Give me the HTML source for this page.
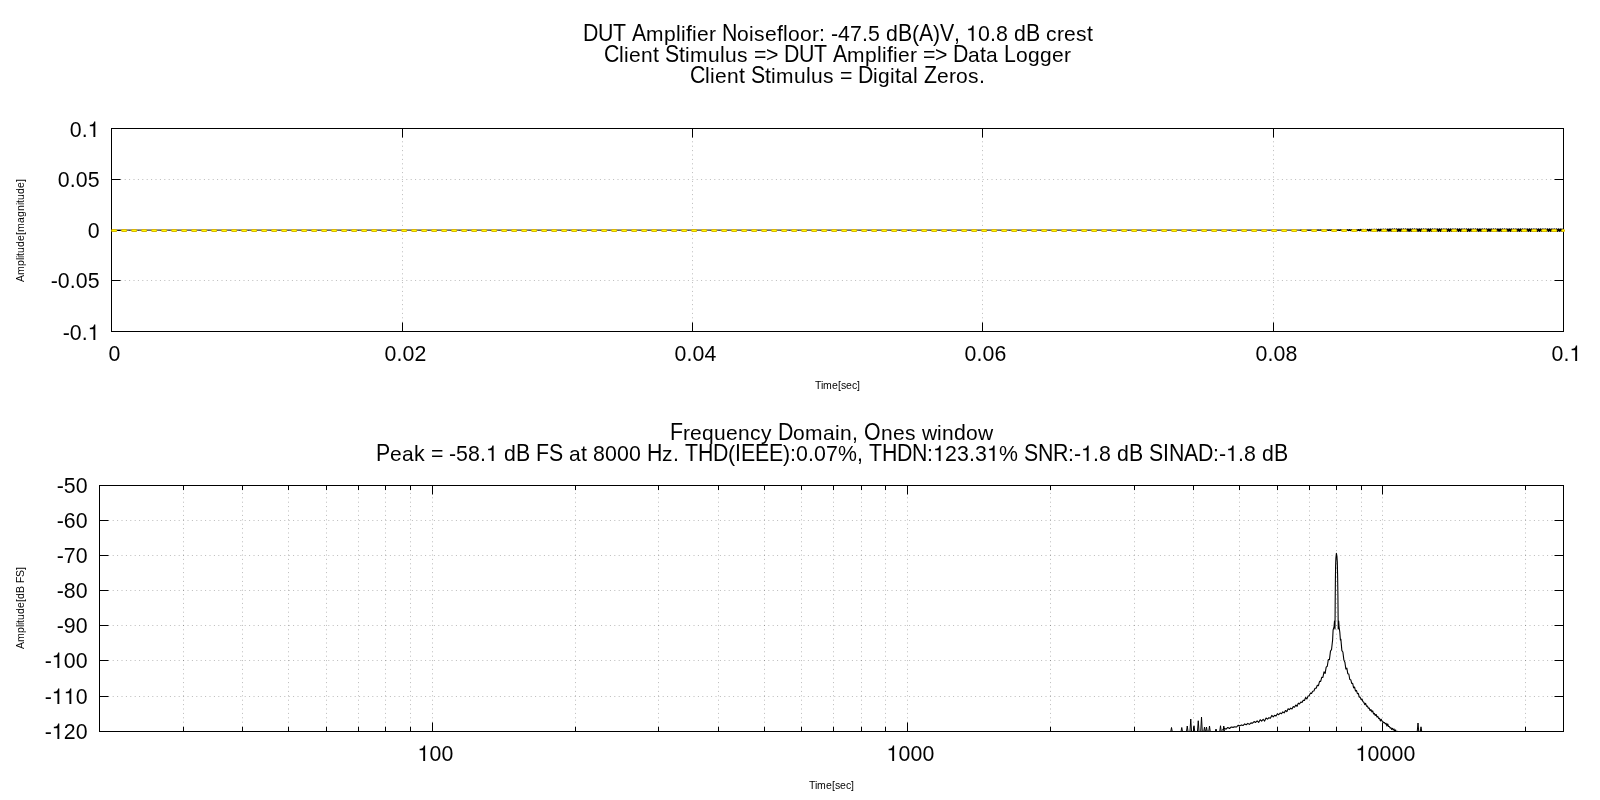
<!DOCTYPE html><html><head><meta charset="utf-8"><style>html,body{margin:0;padding:0;background:#fff;}svg{display:block;}text{font-family:"Liberation Sans",sans-serif;fill:#000;}</style></head><body>
<svg width="1600" height="800" viewBox="0 0 1600 800">
<defs><path id="one" d="M358 0L268 0L268 510L100 510L100 574C176 579 214 586 244 610C274 636 290 672 300 728L358 728Z"/><clipPath id="cb"><rect x="99.5" y="485.5" width="1464" height="246"/></clipPath></defs>
<rect x="0" y="0" width="1600" height="800" fill="#fff"/>
<path d="M402.5 331.5V128.5M692.5 331.5V128.5M982.5 331.5V128.5M1273.5 331.5V128.5M111.5 179.5H1563.5M111.5 230.5H1563.5M111.5 280.5H1563.5" fill="none" stroke="#000" stroke-width="1" stroke-opacity="0.27" stroke-dasharray="1 3.4"/>
<path d="M111.5 331.5v-9M111.5 128.5v9M402.5 331.5v-9M402.5 128.5v9M692.5 331.5v-9M692.5 128.5v9M982.5 331.5v-9M982.5 128.5v9M1273.5 331.5v-9M1273.5 128.5v9M1563.5 331.5v-9M1563.5 128.5v9M111.5 128.5h9M1563.5 128.5h-9M111.5 179.5h9M1563.5 179.5h-9M111.5 230.5h9M1563.5 230.5h-9M111.5 280.5h9M1563.5 280.5h-9M111.5 331.5h9M1563.5 331.5h-9" fill="none" stroke="#000" stroke-width="1"/>
<rect x="111.5" y="128.5" width="1452" height="203" fill="none" stroke="#000" stroke-width="1"/>
<polyline points="111.50,230.10 1300.00,230.10" fill="none" stroke="#000" stroke-width="0.95"/>
<polyline points="1300.00,230.10 1300.30,230.10 1300.60,230.10 1300.90,230.10 1301.20,230.10 1301.50,230.10 1301.80,230.10 1302.10,230.10 1302.40,230.10 1302.70,230.10 1303.00,230.10 1303.30,230.10 1303.60,230.11 1303.90,230.10 1304.20,230.10 1304.50,230.09 1304.80,230.09 1305.10,230.10 1305.40,230.11 1305.70,230.11 1306.00,230.10 1306.30,230.08 1306.60,230.09 1306.90,230.11 1307.20,230.12 1307.50,230.11 1307.80,230.09 1308.10,230.08 1308.40,230.08 1308.70,230.11 1309.00,230.13 1309.30,230.12 1309.60,230.09 1309.90,230.07 1310.20,230.08 1310.50,230.11 1310.80,230.14 1311.10,230.12 1311.40,230.09 1311.70,230.06 1312.00,230.07 1312.30,230.12 1312.60,230.15 1312.90,230.13 1313.20,230.08 1313.50,230.05 1313.80,230.06 1314.10,230.12 1314.40,230.16 1314.70,230.14 1315.00,230.08 1315.30,230.04 1315.60,230.06 1315.90,230.12 1316.20,230.17 1316.50,230.15 1316.80,230.07 1317.10,230.02 1317.40,230.05 1317.70,230.13 1318.00,230.18 1318.30,230.16 1318.60,230.07 1318.90,230.01 1319.20,230.04 1319.50,230.13 1319.80,230.20 1320.10,230.16 1320.40,230.06 1320.70,230.00 1321.00,230.03 1321.30,230.14 1321.60,230.21 1321.90,230.17 1322.20,230.06 1322.50,229.98 1322.80,230.02 1323.10,230.14 1323.40,230.23 1323.70,230.18 1324.00,230.05 1324.30,229.97 1324.60,230.01 1324.90,230.15 1325.20,230.24 1325.50,230.19 1325.80,230.05 1326.10,229.95 1326.40,230.00 1326.70,230.15 1327.00,230.26 1327.30,230.20 1327.60,230.04 1327.90,229.93 1328.20,229.99 1328.50,230.16 1328.80,230.28 1329.10,230.22 1329.40,230.04 1329.70,229.92 1330.00,229.98 1330.30,230.17 1330.60,230.29 1330.90,230.23 1331.20,230.03 1331.50,229.90 1331.80,229.97 1332.10,230.17 1332.40,230.31 1332.70,230.24 1333.00,230.02 1333.30,229.88 1333.60,229.95 1333.90,230.18 1334.20,230.33 1334.50,230.25 1334.80,230.02 1335.10,229.86 1335.40,229.94 1335.70,230.19 1336.00,230.35 1336.30,230.27 1336.60,230.01 1336.90,229.84 1337.20,229.93 1337.50,230.19 1337.80,230.37 1338.10,230.28 1338.40,230.00 1338.70,229.82 1339.00,229.91 1339.30,230.20 1339.60,230.39 1339.90,230.29 1340.20,230.00 1340.50,229.80 1340.80,229.90 1341.10,230.21 1341.40,230.41 1341.70,230.31 1342.00,229.99 1342.30,229.78 1342.60,229.89 1342.90,230.22 1343.20,230.43 1343.50,230.32 1343.80,229.98 1344.10,229.75 1344.40,229.87 1344.70,230.22 1345.00,230.46 1345.30,230.34 1345.60,229.97 1345.90,229.73 1346.20,229.86 1346.50,230.23 1346.80,230.48 1347.10,230.35 1347.40,229.97 1347.70,229.71 1348.00,229.84 1348.30,230.24 1348.60,230.50 1348.90,230.37 1349.20,229.96 1349.50,229.68 1349.80,229.83 1350.10,230.25 1350.40,230.53 1350.70,230.38 1351.00,229.95 1351.30,229.66 1351.60,229.81 1351.90,230.26 1352.20,230.55 1352.50,230.40 1352.80,229.94 1353.10,229.63 1353.40,229.79 1353.70,230.26 1354.00,230.58 1354.30,230.42 1354.60,229.93 1354.90,229.61 1355.20,229.78 1355.50,230.27 1355.80,230.60 1356.10,230.43 1356.40,229.92 1356.70,229.58 1357.00,229.76 1357.30,230.28 1357.60,230.63 1357.90,230.45 1358.20,229.91 1358.50,229.56 1358.80,229.74 1359.10,230.29 1359.40,230.66 1359.70,230.47 1360.00,229.90 1360.30,229.53 1360.60,229.72 1360.90,230.30 1361.20,230.68 1361.50,230.48 1361.80,229.89 1362.10,229.50 1362.40,229.71 1362.70,230.31 1363.00,230.71 1363.30,230.50 1363.60,229.88 1363.90,229.47 1364.20,229.69 1364.50,230.32 1364.80,230.74 1365.10,230.52 1365.40,229.87 1365.70,229.44 1366.00,229.67 1366.30,230.33 1366.60,230.77 1366.90,230.54 1367.20,229.86 1367.50,229.42 1367.80,229.65 1368.10,230.34 1368.40,230.80 1368.70,230.56 1369.00,229.85 1369.30,229.39 1369.60,229.63 1369.90,230.35 1370.20,230.83 1370.50,230.58 1370.80,229.84 1371.10,229.36 1371.40,229.61 1371.70,230.36 1372.00,230.86 1372.30,230.60 1372.60,229.83 1372.90,229.33 1373.20,229.59 1373.50,230.37 1373.80,230.89 1374.10,230.62 1374.40,229.82 1374.70,229.30 1375.00,229.57 1375.30,230.38 1375.60,230.92 1375.90,230.64 1376.20,229.81 1376.50,229.26 1376.80,229.55 1377.10,230.39 1377.40,230.95 1377.70,230.66 1378.00,229.80 1378.30,229.23 1378.60,229.53 1378.90,230.40 1379.20,230.98 1379.50,230.68 1379.80,229.79 1380.10,229.20 1380.40,229.51 1380.70,230.42 1381.00,231.02 1381.30,230.70 1381.60,229.78 1381.90,229.17 1382.20,229.49 1382.50,230.43 1382.80,231.05 1383.10,230.72 1383.40,229.77 1383.70,229.13 1384.00,229.47 1384.30,230.44 1384.60,231.08 1384.90,230.74 1385.20,229.76 1385.50,229.10 1385.80,229.44 1386.10,230.45 1386.40,231.12 1386.70,230.77 1387.00,229.74 1387.30,229.07 1387.60,229.42 1387.90,230.46 1388.20,231.15 1388.50,230.79 1388.80,229.73 1389.10,229.03 1389.40,229.40 1389.70,230.47 1390.00,231.18 1390.30,230.81 1390.60,229.72 1390.90,229.00 1391.20,229.38 1391.50,230.49 1391.80,231.22 1392.10,230.83 1392.40,229.71 1392.70,228.96 1393.00,229.35 1393.30,230.50 1393.60,231.25 1393.90,230.86 1394.20,229.70 1394.50,228.93 1394.80,229.33 1395.10,230.51 1395.40,231.28 1395.70,230.87 1396.00,229.69 1396.30,228.92 1396.60,229.33 1396.90,230.51 1397.20,231.28 1397.50,230.87 1397.80,229.69 1398.10,228.92 1398.40,229.33 1398.70,230.51 1399.00,231.28 1399.30,230.87 1399.60,229.69 1399.90,228.92 1400.20,229.33 1400.50,230.51 1400.80,231.28 1401.10,230.87 1401.40,229.69 1401.70,228.92 1402.00,229.33 1402.30,230.51 1402.60,231.28 1402.90,230.87 1403.20,229.69 1403.50,228.92 1403.80,229.33 1404.10,230.51 1404.40,231.28 1404.70,230.87 1405.00,229.69 1405.30,228.92 1405.60,229.33 1405.90,230.51 1406.20,231.28 1406.50,230.87 1406.80,229.69 1407.10,228.92 1407.40,229.33 1407.70,230.51 1408.00,231.28 1408.30,230.87 1408.60,229.69 1408.90,228.92 1409.20,229.33 1409.50,230.51 1409.80,231.28 1410.10,230.87 1410.40,229.69 1410.70,228.92 1411.00,229.33 1411.30,230.51 1411.60,231.28 1411.90,230.87 1412.20,229.69 1412.50,228.92 1412.80,229.33 1413.10,230.51 1413.40,231.28 1413.70,230.87 1414.00,229.69 1414.30,228.92 1414.60,229.33 1414.90,230.51 1415.20,231.28 1415.50,230.87 1415.80,229.69 1416.10,228.92 1416.40,229.33 1416.70,230.51 1417.00,231.28 1417.30,230.87 1417.60,229.69 1417.90,228.92 1418.20,229.33 1418.50,230.51 1418.80,231.28 1419.10,230.87 1419.40,229.69 1419.70,228.92 1420.00,229.33 1420.30,230.51 1420.60,231.28 1420.90,230.87 1421.20,229.69 1421.50,228.92 1421.80,229.33 1422.10,230.51 1422.40,231.28 1422.70,230.87 1423.00,229.69 1423.30,228.92 1423.60,229.33 1423.90,230.51 1424.20,231.28 1424.50,230.87 1424.80,229.69 1425.10,228.92 1425.40,229.33 1425.70,230.51 1426.00,231.28 1426.30,230.87 1426.60,229.69 1426.90,228.92 1427.20,229.33 1427.50,230.51 1427.80,231.28 1428.10,230.87 1428.40,229.69 1428.70,228.92 1429.00,229.33 1429.30,230.51 1429.60,231.28 1429.90,230.87 1430.20,229.69 1430.50,228.92 1430.80,229.33 1431.10,230.51 1431.40,231.28 1431.70,230.87 1432.00,229.69 1432.30,228.92 1432.60,229.33 1432.90,230.51 1433.20,231.28 1433.50,230.87 1433.80,229.69 1434.10,228.92 1434.40,229.33 1434.70,230.51 1435.00,231.28 1435.30,230.87 1435.60,229.69 1435.90,228.92 1436.20,229.33 1436.50,230.51 1436.80,231.28 1437.10,230.87 1437.40,229.69 1437.70,228.92 1438.00,229.33 1438.30,230.51 1438.60,231.28 1438.90,230.87 1439.20,229.69 1439.50,228.92 1439.80,229.33 1440.10,230.51 1440.40,231.28 1440.70,230.87 1441.00,229.69 1441.30,228.92 1441.60,229.33 1441.90,230.51 1442.20,231.28 1442.50,230.87 1442.80,229.69 1443.10,228.92 1443.40,229.33 1443.70,230.51 1444.00,231.28 1444.30,230.87 1444.60,229.69 1444.90,228.92 1445.20,229.33 1445.50,230.51 1445.80,231.28 1446.10,230.87 1446.40,229.69 1446.70,228.92 1447.00,229.33 1447.30,230.51 1447.60,231.28 1447.90,230.87 1448.20,229.69 1448.50,228.92 1448.80,229.33 1449.10,230.51 1449.40,231.28 1449.70,230.87 1450.00,229.69 1450.30,228.92 1450.60,229.33 1450.90,230.51 1451.20,231.28 1451.50,230.87 1451.80,229.69 1452.10,228.92 1452.40,229.33 1452.70,230.51 1453.00,231.28 1453.30,230.87 1453.60,229.69 1453.90,228.92 1454.20,229.33 1454.50,230.51 1454.80,231.28 1455.10,230.87 1455.40,229.69 1455.70,228.92 1456.00,229.33 1456.30,230.51 1456.60,231.28 1456.90,230.87 1457.20,229.69 1457.50,228.92 1457.80,229.33 1458.10,230.51 1458.40,231.28 1458.70,230.87 1459.00,229.69 1459.30,228.92 1459.60,229.33 1459.90,230.51 1460.20,231.28 1460.50,230.87 1460.80,229.69 1461.10,228.92 1461.40,229.33 1461.70,230.51 1462.00,231.28 1462.30,230.87 1462.60,229.69 1462.90,228.92 1463.20,229.33 1463.50,230.51 1463.80,231.28 1464.10,230.87 1464.40,229.69 1464.70,228.92 1465.00,229.33 1465.30,230.51 1465.60,231.28 1465.90,230.87 1466.20,229.69 1466.50,228.92 1466.80,229.33 1467.10,230.51 1467.40,231.28 1467.70,230.87 1468.00,229.69 1468.30,228.92 1468.60,229.33 1468.90,230.51 1469.20,231.28 1469.50,230.87 1469.80,229.69 1470.10,228.92 1470.40,229.33 1470.70,230.51 1471.00,231.28 1471.30,230.87 1471.60,229.69 1471.90,228.92 1472.20,229.33 1472.50,230.51 1472.80,231.28 1473.10,230.87 1473.40,229.69 1473.70,228.92 1474.00,229.33 1474.30,230.51 1474.60,231.28 1474.90,230.87 1475.20,229.69 1475.50,228.92 1475.80,229.33 1476.10,230.51 1476.40,231.28 1476.70,230.87 1477.00,229.69 1477.30,228.92 1477.60,229.33 1477.90,230.51 1478.20,231.28 1478.50,230.87 1478.80,229.69 1479.10,228.92 1479.40,229.33 1479.70,230.51 1480.00,231.28 1480.30,230.87 1480.60,229.69 1480.90,228.92 1481.20,229.33 1481.50,230.51 1481.80,231.28 1482.10,230.87 1482.40,229.69 1482.70,228.92 1483.00,229.33 1483.30,230.51 1483.60,231.28 1483.90,230.87 1484.20,229.69 1484.50,228.92 1484.80,229.33 1485.10,230.51 1485.40,231.28 1485.70,230.87 1486.00,229.69 1486.30,228.92 1486.60,229.33 1486.90,230.51 1487.20,231.28 1487.50,230.87 1487.80,229.69 1488.10,228.92 1488.40,229.33 1488.70,230.51 1489.00,231.28 1489.30,230.87 1489.60,229.69 1489.90,228.92 1490.20,229.33 1490.50,230.51 1490.80,231.28 1491.10,230.87 1491.40,229.69 1491.70,228.92 1492.00,229.33 1492.30,230.51 1492.60,231.28 1492.90,230.87 1493.20,229.69 1493.50,228.92 1493.80,229.33 1494.10,230.51 1494.40,231.28 1494.70,230.87 1495.00,229.69 1495.30,228.92 1495.60,229.33 1495.90,230.51 1496.20,231.28 1496.50,230.87 1496.80,229.69 1497.10,228.92 1497.40,229.33 1497.70,230.51 1498.00,231.28 1498.30,230.87 1498.60,229.69 1498.90,228.92 1499.20,229.33 1499.50,230.51 1499.80,231.28 1500.10,230.87 1500.40,229.69 1500.70,228.92 1501.00,229.33 1501.30,230.51 1501.60,231.28 1501.90,230.87 1502.20,229.69 1502.50,228.92 1502.80,229.33 1503.10,230.51 1503.40,231.28 1503.70,230.87 1504.00,229.69 1504.30,228.92 1504.60,229.33 1504.90,230.51 1505.20,231.28 1505.50,230.87 1505.80,229.69 1506.10,228.92 1506.40,229.33 1506.70,230.51 1507.00,231.28 1507.30,230.87 1507.60,229.69 1507.90,228.92 1508.20,229.33 1508.50,230.51 1508.80,231.28 1509.10,230.87 1509.40,229.69 1509.70,228.92 1510.00,229.33 1510.30,230.51 1510.60,231.28 1510.90,230.87 1511.20,229.69 1511.50,228.92 1511.80,229.33 1512.10,230.51 1512.40,231.28 1512.70,230.87 1513.00,229.69 1513.30,228.92 1513.60,229.33 1513.90,230.51 1514.20,231.28 1514.50,230.87 1514.80,229.69 1515.10,228.92 1515.40,229.33 1515.70,230.51 1516.00,231.28 1516.30,230.87 1516.60,229.69 1516.90,228.92 1517.20,229.33 1517.50,230.51 1517.80,231.28 1518.10,230.87 1518.40,229.69 1518.70,228.92 1519.00,229.33 1519.30,230.51 1519.60,231.28 1519.90,230.87 1520.20,229.69 1520.50,228.92 1520.80,229.33 1521.10,230.51 1521.40,231.28 1521.70,230.87 1522.00,229.69 1522.30,228.92 1522.60,229.33 1522.90,230.51 1523.20,231.28 1523.50,230.87 1523.80,229.69 1524.10,228.92 1524.40,229.33 1524.70,230.51 1525.00,231.28 1525.30,230.87 1525.60,229.69 1525.90,228.92 1526.20,229.33 1526.50,230.51 1526.80,231.28 1527.10,230.87 1527.40,229.69 1527.70,228.92 1528.00,229.33 1528.30,230.51 1528.60,231.28 1528.90,230.87 1529.20,229.69 1529.50,228.92 1529.80,229.33 1530.10,230.51 1530.40,231.28 1530.70,230.87 1531.00,229.69 1531.30,228.92 1531.60,229.33 1531.90,230.51 1532.20,231.28 1532.50,230.87 1532.80,229.69 1533.10,228.92 1533.40,229.33 1533.70,230.51 1534.00,231.28 1534.30,230.87 1534.60,229.69 1534.90,228.92 1535.20,229.33 1535.50,230.51 1535.80,231.28 1536.10,230.87 1536.40,229.69 1536.70,228.92 1537.00,229.33 1537.30,230.51 1537.60,231.28 1537.90,230.87 1538.20,229.69 1538.50,228.92 1538.80,229.33 1539.10,230.51 1539.40,231.28 1539.70,230.87 1540.00,229.69 1540.30,228.92 1540.60,229.33 1540.90,230.51 1541.20,231.28 1541.50,230.87 1541.80,229.69 1542.10,228.92 1542.40,229.33 1542.70,230.51 1543.00,231.28 1543.30,230.87 1543.60,229.69 1543.90,228.92 1544.20,229.33 1544.50,230.51 1544.80,231.28 1545.10,230.87 1545.40,229.69 1545.70,228.92 1546.00,229.33 1546.30,230.51 1546.60,231.28 1546.90,230.87 1547.20,229.69 1547.50,228.92 1547.80,229.33 1548.10,230.51 1548.40,231.28 1548.70,230.87 1549.00,229.69 1549.30,228.92 1549.60,229.33 1549.90,230.51 1550.20,231.28 1550.50,230.87 1550.80,229.69 1551.10,228.92 1551.40,229.33 1551.70,230.51 1552.00,231.28 1552.30,230.87 1552.60,229.69 1552.90,228.92 1553.20,229.33 1553.50,230.51 1553.80,231.28 1554.10,230.87 1554.40,229.69 1554.70,228.92 1555.00,229.33 1555.30,230.51 1555.60,231.28 1555.90,230.87 1556.20,229.69 1556.50,228.92 1556.80,229.33 1557.10,230.51 1557.40,231.28 1557.70,230.87 1558.00,229.69 1558.30,228.92 1558.60,229.33 1558.90,230.51 1559.20,231.28 1559.50,230.87 1559.80,229.69 1560.10,228.92 1560.40,229.33 1560.70,230.51 1561.00,231.28 1561.30,230.87 1561.60,229.69 1561.90,228.92 1562.20,229.33 1562.50,230.51 1562.80,231.28 1563.10,230.87 1563.40,229.69" fill="none" stroke="#000" stroke-width="1.3" stroke-linejoin="round"/>
<path d="M111.5 230.5H1563.5" fill="none" stroke="#d8b400" stroke-width="3" stroke-linecap="round" stroke-dasharray="3.2 6.8" stroke-dashoffset="-1.1"/>
<path d="M111.5 230.5H1563.5" fill="none" stroke="#ffff00" stroke-width="1.2" stroke-linecap="round" stroke-dasharray="3.2 6.8" stroke-dashoffset="-1.1"/>
<path d="M432.5 731.5V485.5M907.5 731.5V485.5M1382.5 731.5V485.5M99.5 731.5V485.5M183.5 731.5V485.5M242.5 731.5V485.5M288.5 731.5V485.5M326.5 731.5V485.5M358.5 731.5V485.5M385.5 731.5V485.5M410.5 731.5V485.5M575.5 731.5V485.5M658.5 731.5V485.5M718.5 731.5V485.5M764.5 731.5V485.5M801.5 731.5V485.5M833.5 731.5V485.5M861.5 731.5V485.5M885.5 731.5V485.5M1050.5 731.5V485.5M1134.5 731.5V485.5M1193.5 731.5V485.5M1239.5 731.5V485.5M1277.5 731.5V485.5M1309.5 731.5V485.5M1336.5 731.5V485.5M1361.5 731.5V485.5M1525.5 731.5V485.5M99.5 520.5H1563.5M99.5 555.5H1563.5M99.5 590.5H1563.5M99.5 625.5H1563.5M99.5 660.5H1563.5M99.5 696.5H1563.5" fill="none" stroke="#000" stroke-width="1" stroke-opacity="0.27" stroke-dasharray="1 3.4"/>
<path d="M432.5 731.5v-9M432.5 485.5v9M907.5 731.5v-9M907.5 485.5v9M1382.5 731.5v-9M1382.5 485.5v9M99.5 731.5v-4.6M99.5 485.5v4.6M183.5 731.5v-4.6M183.5 485.5v4.6M242.5 731.5v-4.6M242.5 485.5v4.6M288.5 731.5v-4.6M288.5 485.5v4.6M326.5 731.5v-4.6M326.5 485.5v4.6M358.5 731.5v-4.6M358.5 485.5v4.6M385.5 731.5v-4.6M385.5 485.5v4.6M410.5 731.5v-4.6M410.5 485.5v4.6M575.5 731.5v-4.6M575.5 485.5v4.6M658.5 731.5v-4.6M658.5 485.5v4.6M718.5 731.5v-4.6M718.5 485.5v4.6M764.5 731.5v-4.6M764.5 485.5v4.6M801.5 731.5v-4.6M801.5 485.5v4.6M833.5 731.5v-4.6M833.5 485.5v4.6M861.5 731.5v-4.6M861.5 485.5v4.6M885.5 731.5v-4.6M885.5 485.5v4.6M1050.5 731.5v-4.6M1050.5 485.5v4.6M1134.5 731.5v-4.6M1134.5 485.5v4.6M1193.5 731.5v-4.6M1193.5 485.5v4.6M1239.5 731.5v-4.6M1239.5 485.5v4.6M1277.5 731.5v-4.6M1277.5 485.5v4.6M1309.5 731.5v-4.6M1309.5 485.5v4.6M1336.5 731.5v-4.6M1336.5 485.5v4.6M1361.5 731.5v-4.6M1361.5 485.5v4.6M1525.5 731.5v-4.6M1525.5 485.5v4.6M99.5 485.5h9M1563.5 485.5h-9M99.5 520.5h9M1563.5 520.5h-9M99.5 555.5h9M1563.5 555.5h-9M99.5 590.5h9M1563.5 590.5h-9M99.5 625.5h9M1563.5 625.5h-9M99.5 660.5h9M1563.5 660.5h-9M99.5 696.5h9M1563.5 696.5h-9M99.5 731.5h9M1563.5 731.5h-9" fill="none" stroke="#000" stroke-width="1"/>
<rect x="99.5" y="485.5" width="1464" height="246" fill="none" stroke="#000" stroke-width="1"/>
<path clip-path="url(#cb)" d="M1222.52 730.24 L1224.31 728.24 L1226.08 729.22 L1227.84 727.44 L1229.58 728.48 L1231.31 726.96 L1233.02 727.37 L1234.72 726.74 L1236.41 727.02 L1238.08 725.40 L1239.74 725.87 L1241.38 724.92 L1243.01 725.52 L1244.63 723.91 L1246.24 724.76 L1247.84 723.41 L1249.42 724.39 L1250.99 722.84 L1252.55 723.21 L1254.09 721.52 L1255.63 722.49 L1257.15 720.85 L1258.66 722.40 L1260.17 719.71 L1261.66 721.20 L1263.14 719.26 L1264.61 721.05 L1266.07 718.06 L1267.51 719.15 L1268.95 717.68 L1270.38 718.21 L1271.80 715.39 L1273.21 716.85 L1274.61 715.29 L1276.00 716.07 L1277.38 713.76 L1278.75 714.76 L1280.12 713.00 L1281.47 713.74 L1282.82 711.84 L1284.15 712.87 L1285.48 710.54 L1286.80 711.65 L1288.11 708.84 L1289.41 709.64 L1290.71 708.09 L1291.99 709.01 L1293.27 706.56 L1294.54 707.17 L1295.81 704.99 L1297.06 706.31 L1298.31 703.14 L1299.55 704.01 L1300.78 701.99 L1302.01 702.54 L1303.22 700.17 L1304.44 700.46 L1305.64 697.48 L1306.84 698.96 L1308.03 696.09 L1309.21 695.68 L1310.39 693.14 L1311.56 693.51 L1312.72 691.21 L1313.88 691.03 L1315.03 688.21 L1316.17 688.25 L1317.31 685.24 L1318.44 685.63 L1319.56 681.37 L1320.68 681.41 L1321.80 677.23 L1322.90 677.39 L1324.00 671.81 L1325.10 673.50 L1326.19 667.19 L1327.27 666.28 L1328.35 659.53 L1329.42 659.73 L1330.49 651.12 L1331.55 649.56 L1332.60 640.00 L1333.10 630.00 L1334.00 627.00 L1334.50 621.00 L1335.00 629.00 L1335.20 600.00 L1335.40 580.00 L1335.60 566.00 L1335.90 558.00 L1336.40 553.40 L1336.90 556.00 L1337.30 562.00 L1337.60 575.00 L1337.90 595.00 L1338.10 615.00 L1338.20 629.00 L1338.70 621.00 L1339.10 627.00 L1339.80 632.00 L1340.40 640.00 L1340.87 639.16 L1341.88 650.64 L1342.88 651.97 L1343.88 660.11 L1344.88 662.18 L1345.87 669.06 L1346.85 668.17 L1347.83 673.79 L1348.81 673.97 L1349.78 679.51 L1350.75 679.70 L1351.71 683.44 L1352.67 683.42 L1353.62 687.83 L1354.57 687.04 L1355.52 691.04 L1356.46 690.44 L1357.40 693.65 L1358.33 693.43 L1359.26 697.21 L1360.18 697.13 L1361.10 699.68 L1362.01 699.02 L1362.93 701.63 L1363.83 702.29 L1364.74 704.57 L1365.64 703.38 L1366.53 706.30 L1367.42 705.95 L1368.31 708.25 L1369.20 708.05 L1370.08 710.65 L1370.95 709.57 L1371.83 711.89 L1372.70 710.92 L1373.56 713.91 L1374.42 713.43 L1375.28 715.45 L1376.14 714.46 L1376.99 716.96 L1377.84 716.37 L1378.68 718.59 L1379.52 718.22 L1380.36 720.91 L1381.19 719.24 L1382.03 721.09 L1382.85 721.60 L1383.68 722.67 L1384.50 722.57 L1385.32 723.91 L1386.13 723.39 L1386.94 725.99 L1387.75 723.90 L1388.55 726.54 L1389.36 726.53 L1390.16 728.07 L1390.95 727.70 L1391.74 729.50 L1392.53 728.35 L1393.32 729.91 L1394.10 729.03 L1394.88 731.78 L1395.66 729.94 L1396.44 733.09 L1397.21 731.36 L1397.98 733.85 L1398.74 732.31 L1399.51 734.23 L1400.27 733.38 L1401.02 735.37 L1401.78 733.76 L1402.53 735.89 L1403.28 735.43 L1404.03 737.15 L1404.77 736.36 L1405.51 738.78 L1406.25 737.59 L1406.99 738.73 L1407.72 738.47 L1408.45 740.07 L1409.18 739.38 L1409.91 740.86 L1410.63 740.29 L1411.35 741.46 L1412.07 740.34 L1412.78 743.01 L1413.50 741.26 L1414.21 742.87 L1414.92 741.41 L1415.62 743.87 L1416.33 742.93" fill="none" stroke="#000" stroke-width="1.1" stroke-linejoin="round"/>
<path clip-path="url(#cb)" d="M1170.70 732.0L1171.50 727.50L1172.30 732.0M1180.95 732.0L1181.75 727.50L1182.55 732.0M1186.45 732.0L1187.25 726.00L1188.05 732.0M1189.95 732.0L1190.75 719.00L1191.55 732.0M1193.20 732.0L1194.00 725.75L1194.80 732.0M1197.45 732.0L1198.25 720.75L1199.05 732.0M1200.70 732.0L1201.50 717.00L1202.30 732.0M1203.70 732.0L1204.50 727.00L1205.30 732.0M1205.70 732.0L1206.50 727.00L1207.30 732.0M1208.70 732.0L1209.50 726.00L1210.30 732.0M1215.20 732.0L1216.00 729.00L1216.80 732.0M1219.70 732.0L1220.50 725.75L1221.30 732.0M1222.95 732.0L1223.75 726.00L1224.55 732.0M1417.20 732.0L1418.00 723.00L1418.80 732.0M1420.20 732.0L1421.00 726.80L1421.80 732.0" fill="none" stroke="#000" stroke-width="1"/>
<g opacity="0.999">
<text x="676 686 777 783 819 831 838 850 862 868 886 912 933 954 978 990 996 1014 1087" y="41" font-size="21.3">lffl:-47.5d(),0.8dt</text><text x="646 664 681 692 697 709 737 749 754 765 788 800 812 1046 1057 1064 1076" y="41" font-size="21">mpiieroiseoorcres</text><text x="583 598 613 632 722 898 919 940 1026" y="41" font-size="21.3" transform="matrix(1 0 0 1.08 0 -3.28)">DUTANBAVB</text>
<text x="619 653 679 720 754 766 877 887 923 935 980" y="62" font-size="21.3">lttl=&gt;lf=&gt;t</text><text x="624 629 641 685 690 708 725 737 847 865 882 893 898 910 968 986 1016 1028 1040 1052 1064" y="62" font-size="21">ienimuusmpiieraaogger</text><text x="604 665 784 799 814 833 953 1004" y="62" font-size="21.3" transform="matrix(1 0 0 1.08 0 -4.96)">CSDUTADL</text>
<text x="705 739 765 806 840 895 913 979" y="83" font-size="21.3">lttl=tl.</text><text x="710 715 727 771 776 794 811 823 873 878 890 901 937 949 956 968" y="83" font-size="21">ienimuusigiaeros</text><text x="690 751 858 924" y="83" font-size="21.3" transform="matrix(1 0 0 1.08 0 -6.64)">CSDZ</text>
<text x="852 954" y="440" font-size="21.3">,d</text><text x="683 690 702 714 726 738 750 761 793 805 823 835 840 881 893 905 922 937 942 966 978" y="440" font-size="21">requencyomainneswinow</text><text x="670 778 864" y="440" font-size="21.3" transform="matrix(1 0 0 1.08 0 -35.2)">FDO</text>
<text x="414 431 449 456 468 480 504 581 593 605 617 629 673 728 783 790 796 808 814 826 838 857 927 945 957 969 975 999 1068 1074 1093 1099 1117 1213 1219 1238 1244 1262" y="461" font-size="21.3">k=-58.dt8000.():0.07%,:23.3%:-.8d:-.8d</text><text x="390 402 569 662" y="461" font-size="21">eaaz</text><text x="376 516 536 549 647 685 698 713 735 741 755 769 869 882 897 912 1024 1038 1053 1129 1149 1163 1169 1184 1198 1274" y="461" font-size="21.3" transform="matrix(1 0 0 1.08 0 -36.88)">PBFSHTHDIEEETHDNSNRBSINADB</text>
<text x="69.7 81.7" y="137" font-size="21.3">0.</text>
<text x="57.7 69.7 75.7 87.7" y="187" font-size="21.3">0.05</text>
<text x="87.7" y="238" font-size="21.3">0</text>
<text x="50.7 57.7 69.7 75.7 87.7" y="288" font-size="21.3">-0.05</text>
<text x="62.7 69.7 81.7" y="340" font-size="21.3">-0.</text>
<text x="108.5" y="361" font-size="21.3">0</text>
<text x="384.5 396.5 402.5 414.5" y="361" font-size="21.3">0.02</text>
<text x="674.5 686.5 692.5 704.5" y="361" font-size="21.3">0.04</text>
<text x="964.5 976.5 982.5 994.5" y="361" font-size="21.3">0.06</text>
<text x="1255.5 1267.5 1273.5 1285.5" y="361" font-size="21.3">0.08</text>
<text x="1551.5 1563.5" y="361" font-size="21.3">0.</text>
<text x="821 823 832 838 841 846 852 857" y="389" font-size="10.5">ime[sec]</text><text x="815" y="389" font-size="10.5" transform="matrix(1 0 0 1.08 0 -31.12)">T</text>
<g transform="translate(24 230.5) rotate(-90)"><text x="-51.5 -44.5 -35.5 -29.5 -27.5 -25.5 -22.5 -16.5 -10.5 -4.5 -1.5 7.5 13.5 19.5 25.5 27.5 30.5 36.5 42.5 48.5" y="0" font-size="10.5">Amplitude[magnitude]</text></g>
<text x="56.7 63.7 75.7" y="493" font-size="21.3">-50</text>
<text x="56.7 63.7 75.7" y="528" font-size="21.3">-60</text>
<text x="56.7 63.7 75.7" y="563" font-size="21.3">-70</text>
<text x="56.7 63.7 75.7" y="598" font-size="21.3">-80</text>
<text x="56.7 63.7 75.7" y="633" font-size="21.3">-90</text>
<text x="44.7 63.7 75.7" y="668" font-size="21.3">-00</text>
<text x="44.7 75.7" y="704" font-size="21.3">-0</text>
<text x="44.7 63.7 75.7" y="739" font-size="21.3">-20</text>
<text x="429.5 441.5" y="761" font-size="21.3">00</text>
<text x="898.5 910.5 922.5" y="761" font-size="21.3">000</text>
<text x="1367.5 1379.5 1391.5 1403.5" y="761" font-size="21.3">0000</text>
<text x="815 817 826 832 835 840 846 851" y="789" font-size="10.5">ime[sec]</text><text x="809" y="789" font-size="10.5" transform="matrix(1 0 0 1.08 0 -63.12)">T</text>
<g transform="translate(24 608) rotate(-90)"><text x="-41 -34 -25 -19 -17 -15 -12 -6 0 6 9 15 25 31 38" y="0" font-size="10.5">Amplitude[dBFS]</text></g>
<use href="#one" transform="translate(966 41) scale(0.0213 -0.0213)"/>
<use href="#one" transform="translate(486 461) scale(0.0213 -0.0213)"/>
<use href="#one" transform="translate(933 461) scale(0.0213 -0.0213)"/>
<use href="#one" transform="translate(987 461) scale(0.0213 -0.0213)"/>
<use href="#one" transform="translate(1081 461) scale(0.0213 -0.0213)"/>
<use href="#one" transform="translate(1226 461) scale(0.0213 -0.0213)"/>
<use href="#one" transform="translate(87.7 137) scale(0.0213 -0.0213)"/>
<use href="#one" transform="translate(87.7 340) scale(0.0213 -0.0213)"/>
<use href="#one" transform="translate(1569.5 361) scale(0.0213 -0.0213)"/>
<use href="#one" transform="translate(51.7 668) scale(0.0213 -0.0213)"/>
<use href="#one" transform="translate(51.7 704) scale(0.0213 -0.0213)"/>
<use href="#one" transform="translate(63.7 704) scale(0.0213 -0.0213)"/>
<use href="#one" transform="translate(51.7 739) scale(0.0213 -0.0213)"/>
<use href="#one" transform="translate(417.5 761) scale(0.0213 -0.0213)"/>
<use href="#one" transform="translate(886.5 761) scale(0.0213 -0.0213)"/>
<use href="#one" transform="translate(1355.5 761) scale(0.0213 -0.0213)"/>
</g>
</svg></body></html>
